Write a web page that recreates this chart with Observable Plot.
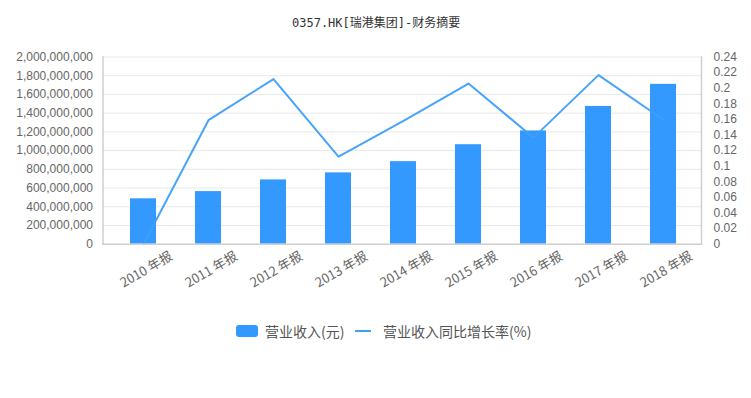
<!DOCTYPE html>
<html><head><meta charset="utf-8">
<script src="https://cdn.jsdelivr.net/npm/d3@7"></script>
<script src="https://cdn.jsdelivr.net/npm/@observablehq/plot@0.6"></script>
<style>
body{margin:0;background:#fff;}
#wrap{position:relative;width:751px;height:398px;overflow:hidden;background:#fff}
#title{position:absolute;top:13px;left:292px;white-space:nowrap;font:12px "DejaVu Sans Mono","Noto Sans CJK SC",monospace;color:#333}
#chart{position:absolute;top:0;left:0}
.lg{position:absolute;top:321px;font:14px "Noto Sans CJK SC","Noto Sans",sans-serif;color:#555;white-space:nowrap;line-height:20px}
.sw{position:absolute;}
</style></head>
<body><div id="wrap">
<div id="title">0357.HK[瑞港集团]-财务摘要</div>
<div id="chart"></div>
<div class="sw" style="left:236px;top:325px;width:22px;height:12px;border-radius:3px;background:#3399ff"></div>
<div class="lg" style="left:265px">营业收入(元)</div>
<div class="sw" style="left:355px;top:330px;width:16px;height:2px;background:#3e9ffb"></div>
<div class="lg" style="left:383px">营业收入同比增长率(%)</div>
</div>
<script>
const categories = ["2010 年报","2011 年报","2012 年报","2013 年报","2014 年报","2015 年报","2016 年报","2017 年报","2018 年报"];
const revenue = [485e6, 562e6, 687e6, 762e6, 882e6, 1063e6, 1210e6, 1472e6, 1708e6];
const growth = [0, 0.159, 0.2117, 0.1123, 0.158, 0.206, 0.1366, 0.2168, 0.1596];
const leftTicks = [0,2e8,4e8,6e8,8e8,1e9,1.2e9,1.4e9,1.6e9,1.8e9,2e9];
const rightTicks = [0,0.02,0.04,0.06,0.08,0.1,0.12,0.14,0.16,0.18,0.2,0.22,0.24];

const k = 2e9 / 0.24;
const rows = categories.map((c,i)=>({cat:c, rev:revenue[i], g:growth[i]*k}));
const font = '"Noto Sans CJK SC","Noto Sans",sans-serif';
const numFont = '"Liberation Sans",Arial,sans-serif';

const plot = Plot.plot({
  width: 751, height: 300,
  marginTop: 56.5, marginBottom: 56.3, marginLeft: 102.5, marginRight: 50,
  style: {fontFamily: font, fontSize: "12px", color: "#666", background: "transparent"},
  x: {type: "band", domain: categories, range: [109.4, 696.3], paddingInner: 0.6, paddingOuter: 0.3, axis: null},
  y: {domain: [0, 2e9], axis: null},
  marks: [
    Plot.ruleY(leftTicks, {stroke: "#e8e8e8", strokeWidth: 1}),
    Plot.barY(rows, {x: "cat", y: "rev", fill: "#3399ff"}),
    Plot.line(rows, {x: "cat", y: "g", stroke: "#3e9ffb", strokeWidth: 2, strokeOpacity: 0.95}),
    Plot.ruleY([0], {stroke: "#cfcfcf", strokeWidth: 1.5}),
    Plot.frame({anchor: "left", stroke: "#cfcfcf", strokeWidth: 1.5}),
    Plot.frame({anchor: "right", stroke: "#cfcfcf", strokeWidth: 1.5}),
    Plot.axisY(leftTicks, {anchor: "left", tickSize: 0, tickPadding: 10, tickFormat: d3.format(","), fill: "#666", fontSize: 12, fontFamily: numFont}),
    Plot.axisY(rightTicks.map(t => t*k), {anchor: "right", tickSize: 0, tickPadding: 12, tickFormat: d => String(+(d/k).toFixed(2)), fill: "#666", fontSize: 12, fontFamily: numFont}),
    Plot.text(categories, {x: d => d, frameAnchor: "bottom", rotate: -30, textAnchor: "end", lineAnchor: "middle", dx: 28, dy: 11, fill: "#666", fontSize: 13})
  ]
});
document.getElementById("chart").appendChild(plot);
</script>
</body></html>
